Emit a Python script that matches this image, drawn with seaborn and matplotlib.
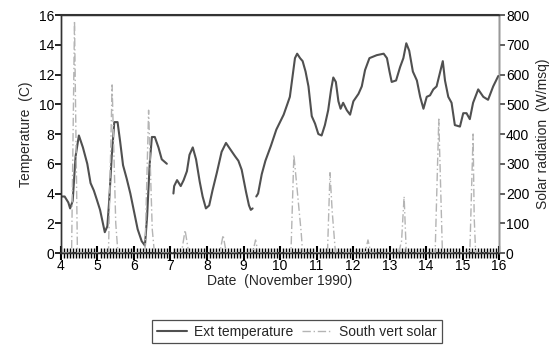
import numpy as np
import pandas as pd
import matplotlib
matplotlib.use('Agg')
import matplotlib.pyplot as plt
import seaborn as sns
from matplotlib.ticker import MultipleLocator

# Ext temperature (C); NaN = gap in the trace
temp_day = [4.0, 4.1, 4.2, 4.25, 4.32, 4.4, 4.49, 4.6, 4.72, 4.81, 4.9, 4.98, 5.07, 5.2, 5.27,
            5.32, 5.39, 5.46, 5.55, 5.62, 5.7, 5.8, 5.9, 6.0, 6.1, 6.21, 6.3, 6.36, 6.43, 6.49,
            6.57, 6.67, 6.76, 6.9, 6.98,
            7.08, 7.1, 7.18, 7.28, 7.36, 7.45, 7.52, 7.61, 7.7, 7.8, 7.88, 7.97, 8.06, 8.15,
            8.27, 8.4, 8.52, 8.63, 8.77, 8.86, 8.95, 9.07, 9.15, 9.2, 9.25, 9.3,
            9.35, 9.4, 9.5, 9.6, 9.75, 9.9, 10.0, 10.1, 10.2, 10.27, 10.34, 10.41, 10.47, 10.55,
            10.62, 10.7, 10.78, 10.87, 10.96, 11.05, 11.14, 11.23, 11.32, 11.4, 11.46, 11.53,
            11.6, 11.66, 11.73, 11.83, 11.92, 12.01, 12.15, 12.24, 12.33, 12.45, 12.65, 12.84,
            12.93, 13.0, 13.06, 13.18, 13.29, 13.38, 13.46, 13.54, 13.64, 13.75, 13.84, 13.93,
            14.02, 14.11, 14.2, 14.29, 14.38, 14.46, 14.52, 14.61, 14.7, 14.79, 14.93, 15.02,
            15.11, 15.2, 15.29, 15.43, 15.57, 15.7, 15.84, 15.98]
temp_val = [3.8, 3.8, 3.4, 3.0, 3.5, 6.5, 7.9, 7.1, 6.0, 4.7, 4.2, 3.6, 2.9, 1.4, 1.8,
            3.5, 6.5, 8.8, 8.8, 7.5, 5.9, 5.0, 4.0, 2.8, 1.6, 0.8, 0.5, 2.5, 6.0, 7.8,
            7.8, 7.1, 6.3, 6.0, np.nan,
            4.0, 4.5, 4.9, 4.5, 4.9, 5.5, 6.6, 7.1, 6.3, 4.8, 3.8, 3.0, 3.2, 4.2,
            5.4, 6.8, 7.4, 7.0, 6.5, 6.2, 5.6, 4.1, 3.2, 2.9, 3.0, np.nan,
            3.8, 4.0, 5.3, 6.2, 7.2, 8.3, 8.8, 9.3, 10.0, 10.5, 11.8, 13.1, 13.4, 13.1,
            12.9, 12.2, 11.2, 9.2, 8.7, 8.0, 7.9, 8.6, 9.6, 11.0, 11.8, 11.5,
            10.2, 9.7, 10.1, 9.6, 9.3, 10.2, 10.7, 11.2, 12.3, 13.1, 13.3, 13.4,
            13.1, 12.2, 11.5, 11.6, 12.5, 13.1, 14.1, 13.6, 12.2, 11.6, 10.5, 9.7,
            10.5, 10.6, 11.0, 11.2, 12.1, 12.9, 11.6, 10.5, 10.1, 8.6, 8.5, 9.4,
            9.4, 9.0, 10.1, 11.0, 10.5, 10.3, 11.2, 11.9]

# South vert solar (W/msq)
solar_day = [4.0, 4.29, 4.37, 4.45, 5.3, 5.4, 5.5, 5.56, 6.3, 6.4, 6.5, 6.56,
             7.3, 7.4, 7.5, 8.35, 8.44, 8.53, 9.25, 9.33, 9.4,
             10.3, 10.38, 10.58, 10.62, 11.3, 11.37, 11.43, 11.52, 12.33, 12.41, 12.49,
             13.25, 13.33, 13.4, 13.46, 14.25, 14.35, 14.45, 15.2, 15.29, 15.32, 15.36, 16.0]
solar_val = [0, 0, 780, 0, 0, 565, 100, 0, 0, 480, 80, 0,
             0, 77, 0, 0, 60, 0, 0, 44, 0,
             0, 330, 70, 0, 0, 270, 140, 0, 0, 44, 0,
             0, 40, 190, 0, 0, 450, 0, 0, 400, 120, 0, 0]

df_t = pd.DataFrame({'day': temp_day, 'temp': temp_val})
df_t['seg'] = df_t['temp'].isna().cumsum()
df_t = df_t.dropna()
df_s = pd.DataFrame({'day': solar_day, 'solar': solar_val})

sns.set_style('ticks')
plt.rcParams['font.family'] = ['Liberation Sans', 'DejaVu Sans']
plt.rcParams['xtick.color'] = 'black'
plt.rcParams['ytick.color'] = 'black'

fig = plt.figure(figsize=(5.52, 3.49), dpi=100)
ax = fig.add_axes([0.1105, 0.275, 0.7935, 0.682])
ax2 = ax.twinx()

sns.lineplot(data=df_t, x='day', y='temp', units='seg', estimator=None, ax=ax,
             color='#505050', lw=1.5, label='Ext temperature')
sns.lineplot(data=df_s, x='day', y='solar', ax=ax2, color='#b4b4b4', lw=1.0,
             linestyle=(0, (6, 2, 1, 2)), label='South vert solar')

ax.set_xlim(4, 16)
ax.set_ylim(0, 16)
ax2.set_ylim(0, 800)
ax.set_xticks(np.arange(4, 17, 1))
ax.set_xticks(np.arange(4, 16.001, 1 / 12), minor=True)
ax.yaxis.set_major_locator(MultipleLocator(2))
ax2.yaxis.set_major_locator(MultipleLocator(100))

for a in (ax, ax2):
    for s in a.spines.values():
        s.set_color('#333333')
        s.set_linewidth(1.0)
ax.spines['bottom'].set_linewidth(1.5)
ax.spines['top'].set_linewidth(1.5)
ax2.spines['right'].set_color('#999999')

ax.tick_params(axis='x', which='major', direction='inout', length=10, width=1.5,
               color='black', labelsize=10, pad=-1, bottom=True)
ax.tick_params(axis='x', which='minor', direction='inout', length=7, width=1.0,
               color='black', bottom=True)
ax.tick_params(axis='y', direction='out', length=4, width=1.2, color='black',
               labelsize=10, pad=1, left=True)
ax2.tick_params(axis='y', direction='out', length=4, width=1.2, color='#444444',
                labelsize=10, pad=1, right=True)

ax.set_xlabel('Date  (November 1990)', fontsize=10, labelpad=1)
ax.set_ylabel('Temperature  (C)', fontsize=10, labelpad=4)
ax2.set_ylabel('Solar radiation  (W/msq)', fontsize=10, labelpad=5)

h1, l1 = ax.get_legend_handles_labels()
h2, l2 = ax2.get_legend_handles_labels()
ax.get_legend().remove()
ax2.get_legend().remove()
leg = fig.legend([h1[0], h2[0]], [l1[0], l2[0]], loc='center', bbox_to_anchor=(0.538, 0.05),
                 ncol=2, frameon=True, fancybox=False, edgecolor='#222222', fontsize=10,
                 handlelength=2.2, handletextpad=0.5, columnspacing=0.6,
                 borderpad=0.35)
leg.get_frame().set_linewidth(0.9)

fig.savefig('out.png', dpi=100)
